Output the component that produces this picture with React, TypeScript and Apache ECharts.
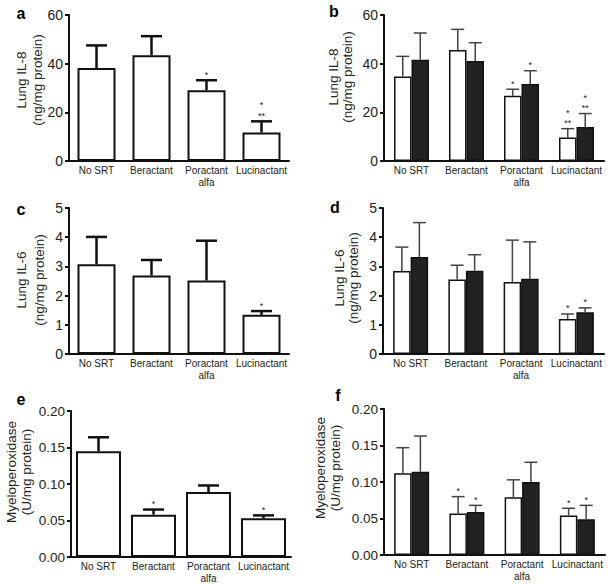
import React, { useEffect, useRef } from "react";
import * as echarts from "echarts";

const categories = ["No SRT", "Beractant", "Poractant\nalfa", "Lucinactant"];

// Axis ticks
const il8Ticks = [0, 20, 40, 60];
const il6Ticks = [0, 1, 2, 3, 4, 5];
const mpoTicks = [0, 0.05, 0.1, 0.15, 0.2];

// Panel a: Lung IL-8
const aMean = [38.2, 43.5, 29.1, 11.7];
const aErr = [47.5, 51.3, 33.2, 16.3];
const aSig = ["", "", "*", "*\n**"];

// Panel b: Lung IL-8 (white / black)
const bWhiteMean = [34.7, 45.6, 26.8, 9.7];
const bWhiteErr = [43.0, 54.1, 29.5, 13.3];
const bWhiteSig = ["", "", "*", "*\n**"];
const bBlackMean = [41.6, 41.1, 31.6, 14.0];
const bBlackErr = [52.6, 48.6, 37.1, 19.5];
const bBlackSig = ["", "", "*", "*\n**"];

// Panel c: Lung IL-6
const cMean = [3.07, 2.69, 2.52, 1.34];
const cErr = [4.01, 3.22, 3.88, 1.47];
const cSig = ["", "", "", "*"];

// Panel d: Lung IL-6 (white / black)
const dWhiteMean = [2.84, 2.55, 2.47, 1.2];
const dWhiteErr = [3.66, 3.04, 3.9, 1.37];
const dWhiteSig = ["", "", "", "*"];
const dBlackMean = [3.32, 2.85, 2.58, 1.43];
const dBlackErr = [4.5, 3.4, 3.84, 1.58];
const dBlackSig = ["", "", "", "*"];

// Panel e: Myeloperoxidase
const eMean = [0.145, 0.058, 0.089, 0.053];
const eErr = [0.164, 0.065, 0.098, 0.057];
const eSig = ["", "*", "", "*"];

// Panel f: Myeloperoxidase (white / black)
const fWhiteMean = [0.112, 0.057, 0.079, 0.054];
const fWhiteErr = [0.147, 0.08, 0.103, 0.064];
const fWhiteSig = ["", "*", "", "*"];
const fBlackMean = [0.114, 0.059, 0.1, 0.049];
const fBlackErr = [0.163, 0.068, 0.127, 0.068];
const fBlackSig = ["", "*", "", "*"];

const FONT = '"Liberation Sans", Arial, Helvetica, sans-serif';
const INK = "#111";

export default function App() {
  const ref = useRef<HTMLDivElement>(null);

  useEffect(() => {
    if (!ref.current) return;
    const chart = echarts.init(ref.current, null, { renderer: "svg" });

    const grids = [
      { left: 69, top: 15, width: 220, height: 146 },
      { left: 384, top: 15, width: 220, height: 146 },
      { left: 69, top: 208, width: 220, height: 146 },
      { left: 383, top: 208, width: 221, height: 146 },
      { left: 71, top: 411, width: 220, height: 146 },
      { left: 384, top: 409, width: 221, height: 146 },
    ];

    const tickSets = [il8Ticks, il8Ticks, il6Ticks, il6Ticks, mpoTicks, mpoTicks];

    const xAxis = grids.map((_, i) => ({
      type: "category",
      gridIndex: i,
      data: categories,
      axisLine: { lineStyle: { color: INK, width: 2 } },
      axisTick: { show: false },
      axisLabel: {
        fontSize: 10,
        lineHeight: 12,
        color: "#222",
        fontFamily: FONT,
        margin: 3,
        interval: 0,
      },
    }));

    const yAxis = tickSets.map((t, i) => ({
      type: "value",
      gridIndex: i,
      min: t[0],
      max: t[t.length - 1],
      interval: t[1] - t[0],
      splitLine: { show: false },
      axisLine: { show: true, lineStyle: { color: INK, width: 2 } },
      axisTick: { show: true, length: 4, lineStyle: { color: INK, width: 2 } },
      axisLabel: {
        fontSize: i >= 4 ? 13.5 : 14,
        color: "#222",
        fontFamily: FONT,
        margin: 6,
        formatter: (v: number) => (i >= 4 ? v.toFixed(2) : String(v)),
      },
    }));

    const barSeries = (
      idx: number,
      values: number[],
      fill: string,
      width: number,
      bw: number
    ) => ({
      type: "bar",
      xAxisIndex: idx,
      yAxisIndex: idx,
      data: values,
      barWidth: width,
      barGap: "0%",
      itemStyle: { color: fill, borderColor: INK, borderWidth: bw },
      z: 2,
    });

    const errSeries = (
      idx: number,
      means: number[],
      errs: number[],
      sigs: string[],
      offset: number,
      capW: number,
      lw: number,
      color: string
    ) => ({
      type: "custom",
      xAxisIndex: idx,
      yAxisIndex: idx,
      z: 5,
      data: means.map((m, i) => [i, m, errs[i]]),
      encode: { x: 0, y: [1, 2] },
      renderItem: (params: any, api: any) => {
        const ci = api.value(0);
        const top = api.coord([ci, api.value(1)]);
        const hi = api.coord([ci, api.value(2)]);
        const x = top[0] + offset;
        const children: any[] = [
          {
            type: "line",
            shape: { x1: x, y1: top[1], x2: x, y2: hi[1] },
            style: { stroke: color, lineWidth: lw },
          },
          {
            type: "line",
            shape: { x1: x - capW / 2, y1: hi[1], x2: x + capW / 2, y2: hi[1] },
            style: { stroke: color, lineWidth: lw },
          },
        ];
        const sig = sigs[params.dataIndex];
        if (sig) {
          const lines = sig.split("\n");
          lines.forEach((ln, k) => {
            const fromBottom = lines.length - 1 - k;
            children.push({
              type: "text",
              x: x,
              y: hi[1] - 1 - fromBottom * 10.5,
              style: {
                text: ln,
                fontSize: 9,
                fontFamily: FONT,
                fill: "#222",
                align: "center",
                verticalAlign: "bottom",
              },
            });
          });
        }
        return { type: "group", children };
      },
    });

    const series: any[] = [
      // a
      barSeries(0, aMean, "#fff", 38, 2),
      errSeries(0, aMean, aErr, aSig, 0, 21, 2.5, INK),
      // b
      barSeries(1, bWhiteMean, "#fff", 17.5, 1.5),
      barSeries(1, bBlackMean, "#222", 17.5, 1.5),
      errSeries(1, bWhiteMean, bWhiteErr, bWhiteSig, -8.75, 13, 1.5, "#444"),
      errSeries(1, bBlackMean, bBlackErr, bBlackSig, 8.75, 13, 1.5, "#444"),
      // c
      barSeries(2, cMean, "#fff", 38, 2),
      errSeries(2, cMean, cErr, cSig, 0, 21, 2.5, INK),
      // d
      barSeries(3, dWhiteMean, "#fff", 17.5, 1.5),
      barSeries(3, dBlackMean, "#222", 17.5, 1.5),
      errSeries(3, dWhiteMean, dWhiteErr, dWhiteSig, -8.75, 13, 1.5, "#444"),
      errSeries(3, dBlackMean, dBlackErr, dBlackSig, 8.75, 13, 1.5, "#444"),
      // e
      barSeries(4, eMean, "#fff", 45, 2),
      errSeries(4, eMean, eErr, eSig, 0, 21, 2.5, INK),
      // f
      barSeries(5, fWhiteMean, "#fff", 17.5, 1.5),
      barSeries(5, fBlackMean, "#222", 17.5, 1.5),
      errSeries(5, fWhiteMean, fWhiteErr, fWhiteSig, -8.75, 13, 1.5, "#444"),
      errSeries(5, fBlackMean, fBlackErr, fBlackSig, 8.75, 13, 1.5, "#444"),
    ];

    const panelLetter = (t: string, x: number, y: number) => ({
      type: "text",
      x,
      y,
      style: {
        text: t,
        fontSize: 16,
        fontWeight: "bold",
        fontFamily: FONT,
        fill: "#000",
        align: "center",
        verticalAlign: "middle",
      },
    });

    const yTitle = (t: string, x: number, y: number) => ({
      type: "text",
      x,
      y,
      rotation: Math.PI / 2,
      style: {
        text: t,
        fontSize: 13.5,
        fontFamily: FONT,
        fill: "#222",
        align: "center",
        verticalAlign: "middle",
      },
    });

    const graphic = [
      panelLetter("a", 21, 13),
      panelLetter("b", 334, 11),
      panelLetter("c", 21, 209),
      panelLetter("d", 335, 207),
      panelLetter("e", 21, 399),
      panelLetter("f", 338, 395),
      yTitle("Lung IL-8", 21, 80),
      yTitle("(ng/mg protein)", 37, 80),
      yTitle("Lung IL-8", 333, 77),
      yTitle("(ng/mg protein)", 347, 77),
      yTitle("Lung IL-6", 21, 280),
      yTitle("(ng/mg protein)", 39, 280),
      yTitle("Lung IL-6", 339, 278),
      yTitle("(ng/mg protein)", 353.5, 278),
      yTitle("Myeloperoxidase", 11, 472),
      yTitle("(U/mg protein)", 26, 472),
      yTitle("Myeloperoxidase", 320, 468),
      yTitle("(U/mg protein)", 335, 468),
    ];

    chart.setOption({
      animation: false,
      backgroundColor: "#fff",
      textStyle: { fontFamily: FONT },
      grid: grids,
      xAxis,
      yAxis,
      series,
      graphic,
    });

    return () => chart.dispose();
  }, []);

  return (
    <div
      ref={ref}
      style={{ position: "fixed", left: 0, top: 0, width: 613, height: 585 }}
    />
  );
}
